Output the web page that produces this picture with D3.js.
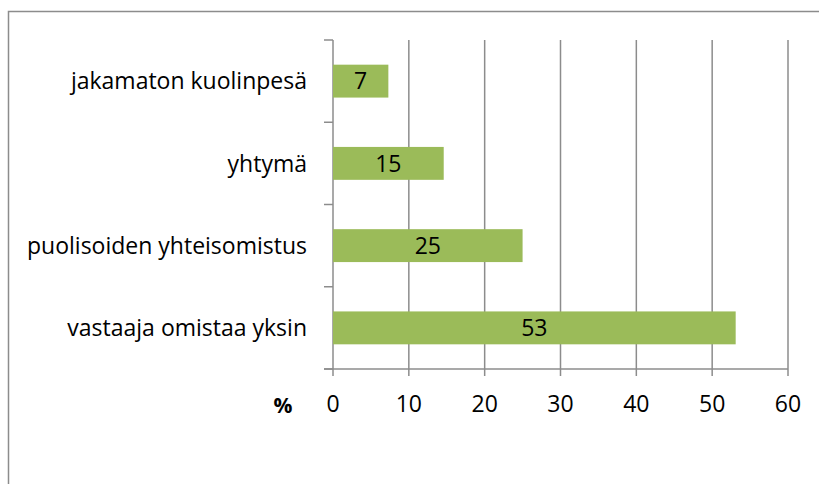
<!DOCTYPE html>
<html>
<head>
<meta charset="utf-8">
<script src="https://cdn.jsdelivr.net/npm/d3@7"></script>
<style>
  body { margin: 0; background: #fff; }
  svg { display: block; font-family: "Open Sans", "Noto Sans", sans-serif; }
</style>
</head>
<body>
<svg id="chart"></svg>
<script>
// data (bars are slightly off round numbers)
const categories = ["jakamaton kuolinpesä", "yhtymä", "puolisoiden yhteisomistus", "vastaaja omistaa yksin"];
const values = [7.3, 14.6, 25, 53.1];
const labels = ["7", "15", "25", "53"];
const xTicks = [0, 10, 20, 30, 40, 50, 60];

const width = 819, height = 484;
const plotLeft = 333, plotRight = 788, plotTop = 40, plotBottom = 369;
const gridColor = "#8c8c8c";
const barColor = "#9bbb59";
const fontSize = "23px";

const svg = d3.select("#chart")
  .attr("width", width)
  .attr("height", height);

// chart area frame (runs off the right/bottom of the image)
svg.append("rect")
  .attr("x", 8.5).attr("y", 11.5)
  .attr("width", 900).attr("height", 600)
  .attr("fill", "none")
  .attr("stroke", gridColor)
  .attr("stroke-width", 1.5);

const x = d3.scaleLinear()
  .domain([0, 60])
  .range([plotLeft, plotRight]);

const y = d3.scaleBand()
  .domain(categories)
  .range([plotTop, plotBottom])
  .paddingInner(0.6)
  .paddingOuter(0.3);

// vertical gridlines
svg.append("g")
  .selectAll("line")
  .data(xTicks)
  .join("line")
  .attr("x1", d => x(d)).attr("x2", d => x(d))
  .attr("y1", plotTop).attr("y2", plotBottom + 7)
  .attr("stroke", gridColor)
  .attr("stroke-width", 1.5);

// category separator ticks on the left axis
const step = y.step();
const bounds = d3.range(categories.length + 1).map(i => plotTop + i * step);
svg.append("g")
  .selectAll("line")
  .data(bounds)
  .join("line")
  .attr("x1", plotLeft - 9).attr("x2", plotLeft)
  .attr("y1", d => d).attr("y2", d => d)
  .attr("stroke", gridColor)
  .attr("stroke-width", 1.5);

// horizontal base axis
svg.append("line")
  .attr("x1", plotLeft - 9).attr("x2", plotRight)
  .attr("y1", plotBottom).attr("y2", plotBottom)
  .attr("stroke", gridColor)
  .attr("stroke-width", 1.5);

// bars
svg.append("g")
  .selectAll("rect")
  .data(values)
  .join("rect")
  .attr("x", x(0))
  .attr("y", (d, i) => y(categories[i]))
  .attr("width", d => x(d) - x(0))
  .attr("height", y.bandwidth())
  .attr("fill", barColor);

// value labels inside bars
svg.append("g")
  .selectAll("text")
  .data(values)
  .join("text")
  .attr("x", d => (x(0) + x(d)) / 2)
  .attr("y", (d, i) => y(categories[i]) + y.bandwidth() / 2)
  .attr("dy", "0.36em")
  .attr("text-anchor", "middle")
  .style("font-size", fontSize)
  .attr("fill", "#000")
  .text((d, i) => labels[i]);

// category labels
svg.append("g")
  .selectAll("text")
  .data(categories)
  .join("text")
  .attr("x", plotLeft - 26)
  .attr("y", d => y(d) + y.bandwidth() / 2)
  .attr("dy", "0.36em")
  .attr("text-anchor", "end")
  .style("font-size", fontSize)
  .text(d => d);

// x tick labels
svg.append("g")
  .selectAll("text")
  .data(xTicks)
  .join("text")
  .attr("x", d => x(d))
  .attr("y", 412)
  .attr("text-anchor", "middle")
  .style("font-size", fontSize)
  .text(d => d);

svg.append("text")
  .attr("x", 283)
  .attr("y", 413)
  .attr("text-anchor", "middle")
  .style("font-size", "21px")
  .style("font-weight", "bold")
  .text("%");
</script>
</body>
</html>
